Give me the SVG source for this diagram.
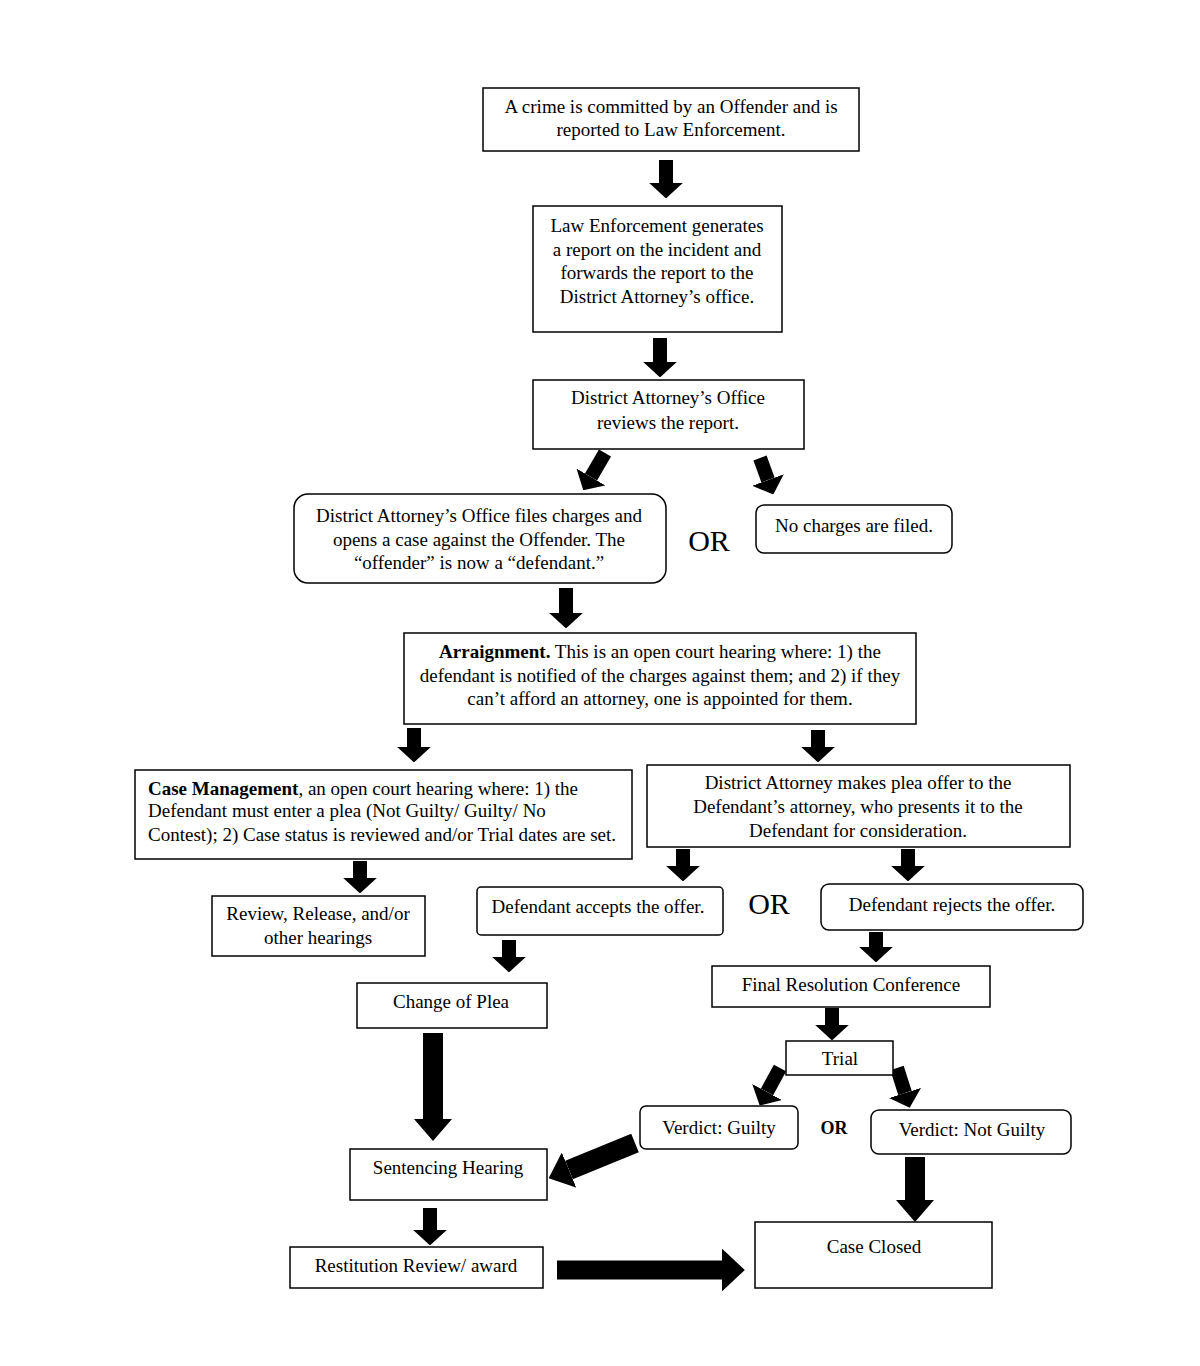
<svg xmlns="http://www.w3.org/2000/svg" width="1200" height="1366" viewBox="0 0 1200 1366">
<style>
.box{fill:#fff;stroke:#000;stroke-width:1.5}
.t{font-family:"Liberation Serif","Times New Roman",serif;font-size:19px;fill:#000;text-anchor:middle}
.l{text-anchor:start}
.b{font-weight:bold}
.or{font-family:"Liberation Serif","Times New Roman",serif;font-size:30px;fill:#000;text-anchor:middle}
.orb{font-family:"Liberation Serif","Times New Roman",serif;font-size:18px;font-weight:bold;fill:#000;text-anchor:middle}
.c{stroke:#000;fill:none;stroke-width:14;marker-end:url(#ah)}
.cw{stroke:#000;fill:none;stroke-width:20;marker-end:url(#ahw)}
</style>
<defs>
<marker id="ah" viewBox="0 0 10 10" refX="0" refY="5" markerWidth="1.1" markerHeight="2.4" preserveAspectRatio="none" orient="auto" markerUnits="strokeWidth"><path d="M0,0 L10,5 L0,10 z" fill="#000"/></marker>
<marker id="ahw" viewBox="0 0 10 10" refX="0" refY="5" markerWidth="1.1" markerHeight="1.9" preserveAspectRatio="none" orient="auto" markerUnits="strokeWidth"><path d="M0,0 L10,5 L0,10 z" fill="#000"/></marker>
<marker id="ahh" viewBox="0 0 10 10" refX="0" refY="5" markerWidth="1.2" markerHeight="2.25" preserveAspectRatio="none" orient="auto" markerUnits="strokeWidth"><path d="M0,0 L10,5 L0,10 z" fill="#000"/></marker>
</defs>
<rect width="1200" height="1366" fill="#fff"/>

<g id="connectors">
<line class="c" x1="666" y1="160" x2="666" y2="183"/>
<line class="c" x1="660" y1="338" x2="660" y2="362"/>
<line class="c" x1="605" y1="453" x2="591" y2="477"/>
<line class="c" x1="760" y1="458" x2="768" y2="480"/>
<line class="c" x1="566" y1="588" x2="566" y2="613"/>
<line class="c" x1="414" y1="728" x2="414" y2="747"/>
<line class="c" x1="818" y1="730" x2="818" y2="747"/>
<line class="c" x1="360" y1="861" x2="360" y2="878"/>
<line class="c" x1="683" y1="849" x2="683" y2="866"/>
<line class="c" x1="908" y1="849" x2="908" y2="866"/>
<line class="c" x1="509" y1="940" x2="509" y2="957"/>
<line class="c" x1="876" y1="932" x2="876" y2="947"/>
<line class="c" x1="832" y1="1008" x2="832" y2="1025"/>
<line class="c" x1="780" y1="1068" x2="767" y2="1092"/>
<line class="c" x1="897" y1="1068" x2="905" y2="1093"/>
<line class="cw" x1="433" y1="1033" x2="433" y2="1119"/>
<line class="cw" x1="635" y1="1143" x2="569" y2="1170"/>
<line class="cw" x1="915" y1="1157" x2="915" y2="1200"/>
<line class="c" x1="430" y1="1208" x2="430" y2="1230"/>
<line style="stroke:#000;stroke-width:19;marker-end:url(#ahh)" x1="557" y1="1270" x2="722" y2="1270"/>
</g>

<g id="n1"><rect class="box" x="483" y="88" width="376" height="63"/>
<text class="t" x="671" y="113">A crime is committed by an Offender and is</text>
<text class="t" x="671" y="136">reported to Law Enforcement.</text></g>

<g id="n2"><rect class="box" x="533" y="206" width="249" height="126"/>
<text class="t" x="657" y="232">Law Enforcement generates</text>
<text class="t" x="657" y="256">a report on the incident and</text>
<text class="t" x="657" y="279">forwards the report to the</text>
<text class="t" x="657" y="303">District Attorney’s office.</text></g>

<g id="n3"><rect class="box" x="533" y="380" width="271" height="69"/>
<text class="t" x="668" y="404">District Attorney’s Office</text>
<text class="t" x="668" y="429">reviews the report.</text></g>

<g id="n4"><rect class="box" x="294" y="494" width="372" height="89" rx="14"/>
<text class="t" x="479" y="522">District Attorney’s Office files charges and</text>
<text class="t" x="479" y="546">opens a case against the Offender. The</text>
<text class="t" x="479" y="569">“offender” is now a “defendant.”</text></g>

<text class="or" x="709" y="551">OR</text>

<g id="n5"><rect class="box" x="756" y="505" width="196" height="48" rx="8"/>
<text class="t" x="854" y="532">No charges are filed.</text></g>

<g id="n6"><rect class="box" x="404" y="633" width="512" height="91"/>
<text class="t" x="660" y="658"><tspan class="b">Arraignment.</tspan> This is an open court hearing where: 1) the</text>
<text class="t" x="660" y="682">defendant is notified of the charges against them; and 2) if they</text>
<text class="t" x="660" y="705">can’t afford an attorney, one is appointed for them.</text></g>

<g id="n7"><rect class="box" x="135" y="770" width="497" height="89"/>
<text class="t l" x="148" y="795"><tspan class="b">Case Management</tspan>, an open court hearing where: 1) the</text>
<text class="t l" x="148" y="817">Defendant must enter a plea (Not Guilty/ Guilty/ No</text>
<text class="t l" x="148" y="841">Contest); 2) Case status is reviewed and/or Trial dates are set.</text></g>

<g id="n8"><rect class="box" x="647" y="765" width="423" height="82"/>
<text class="t" x="858" y="789">District Attorney makes plea offer to the</text>
<text class="t" x="858" y="813">Defendant’s attorney, who presents it to the</text>
<text class="t" x="858" y="837">Defendant for consideration.</text></g>

<g id="n9"><rect class="box" x="212" y="896" width="213" height="60"/>
<text class="t" x="318" y="920">Review, Release, and/or</text>
<text class="t" x="318" y="944">other hearings</text></g>

<g id="n10"><rect class="box" x="477" y="887" width="246" height="48" rx="4"/>
<text class="t" x="598" y="913">Defendant accepts the offer.</text></g>

<text class="or" x="769" y="914">OR</text>

<g id="n11"><rect class="box" x="821" y="884" width="262" height="46" rx="8"/>
<text class="t" x="952" y="911">Defendant rejects the offer.</text></g>

<g id="n12"><rect class="box" x="357" y="983" width="190" height="45"/>
<text class="t" x="451" y="1008">Change of Plea</text></g>

<g id="n13"><rect class="box" x="712" y="966" width="278" height="41"/>
<text class="t" x="851" y="991">Final Resolution Conference</text></g>

<g id="n14"><rect class="box" x="786" y="1041" width="107" height="34"/>
<text class="t" x="840" y="1065">Trial</text></g>

<g id="n15"><rect class="box" x="640" y="1106" width="158" height="43" rx="6"/>
<text class="t" x="719" y="1134">Verdict: Guilty</text></g>

<text class="orb" x="834" y="1134">OR</text>

<g id="n16"><rect class="box" x="871" y="1110" width="200" height="44" rx="8"/>
<text class="t" x="972" y="1136">Verdict: Not Guilty</text></g>

<g id="n17"><rect class="box" x="350" y="1149" width="197" height="51"/>
<text class="t" x="448" y="1174">Sentencing Hearing</text></g>

<g id="n18"><rect class="box" x="290" y="1247" width="253" height="41"/>
<text class="t" x="416" y="1272">Restitution Review/ award</text></g>

<g id="n19"><rect class="box" x="755" y="1222" width="237" height="66"/>
<text class="t" x="874" y="1253">Case Closed</text></g>
</svg>
